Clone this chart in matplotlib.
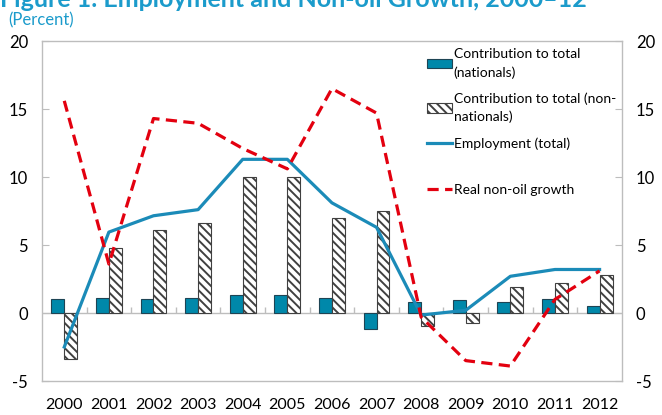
import matplotlib
matplotlib.use("Agg")
import matplotlib.pyplot as plt
import numpy as np

plt.rcParams['font.family'] = ['Lato', 'DejaVu Sans']
plt.rcParams['axes.unicode_minus'] = False
plt.rcParams['hatch.linewidth'] = 1.4
plt.rcParams['hatch.color'] = '#404040'

years = ['2000', '2001', '2002', '2003', '2004', '2005', '2006',
         '2007', '2008', '2009', '2010', '2011', '2012']
nationals = [1.0, 1.1, 1.0, 1.1, 1.3, 1.3, 1.1, -1.2, 0.8, 0.95, 0.8, 1.0, 0.5]
non_nationals = [-3.4, 4.8, 6.1, 6.6, 10.0, 10.0, 7.0, 7.5, -0.95, -0.7, 1.9, 2.2, 2.8]
employment = [-2.5, 5.95, 7.15, 7.6, 11.3, 11.3, 8.1, 6.3, -0.15, 0.2, 2.7, 3.2, 3.2]
non_oil_growth = [15.6, 3.6, 14.3, 13.95, 12.1, 10.6, 16.5, 14.7, -0.3, -3.5, -3.9, 1.0, 3.1]

teal = '#0088AA'
line_blue = '#1B8BB8'
red = '#E3000F'
grey = '#BDBDBD'
title_col = '#1B9BCB'

fig = plt.figure(figsize=(6.62, 4.15), dpi=100)
ax = fig.add_axes([0.0634, 0.0819, 0.876, 0.8193])

x = np.arange(len(years))
w = 0.29
b1 = ax.bar(x - w / 2, nationals, w, color=teal, edgecolor='#1E4454', linewidth=0.8,
            zorder=2, label='Contribution to total\n(nationals)')
b2 = ax.bar(x + w / 2, non_nationals, w, color='white', edgecolor='#404040', linewidth=0.8,
            hatch='\\\\\\\\', zorder=2, label='Contribution to total (non-\nnationals)')
l1, = ax.plot(x, employment, color=line_blue, lw=2.3, zorder=3, label='Employment (total)')
l2, = ax.plot(x, non_oil_growth, color=red, lw=2.3, ls=(0, (3.5, 2)), zorder=4,
              label='Real non-oil growth')

# zero line with small category separators
ax.axhline(0, color=grey, lw=1, zorder=1)
ax.vlines(x[:-1] + 0.5, 0, 0.45, color=grey, lw=1, zorder=1)

ax.set_xlim(-0.5, len(years) - 0.5)
ax.set_ylim(-5, 20)
ax.set_yticks([-5, 0, 5, 10, 15, 20])
ax.set_xticks(x)
ax.set_xticklabels(years)

for s in ax.spines.values():
    s.set_color(grey)
    s.set_linewidth(1)

ax.tick_params(axis='y', direction='in', length=5, color=grey, left=True, right=True,
               labelleft=True, labelright=True, labelsize=12, pad=10)
ax.tick_params(axis='x', length=0, labelsize=11.5, pad=12)

leg1 = ax.legend(handles=[b1, b2, l1], loc='upper left', bbox_to_anchor=(0.655, 0.995),
                 frameon=False, fontsize=10, handlelength=1.8, handleheight=0.7,
                 handletextpad=0.1, labelspacing=1.0, borderaxespad=0)
for t in leg1.get_texts():
    t.set_linespacing(1.55)
ax.add_artist(leg1)
ax.legend(handles=[l2], loc='center left', bbox_to_anchor=(0.655, 0.562),
          frameon=False, fontsize=10, handlelength=1.8, handletextpad=0.1, borderaxespad=0)

fig.text(0.0, 1 - 7 / 415, 'Figure 1. Employment and Non-oil Growth, 2000\u201312',
         fontsize=18, fontweight='bold', color=title_col, va='baseline', ha='left')
fig.text(0.012, 1 - 20 / 415, '(Percent)', fontsize=12, color=title_col, va='center', ha='left')

fig.savefig('out.png', dpi=100)
